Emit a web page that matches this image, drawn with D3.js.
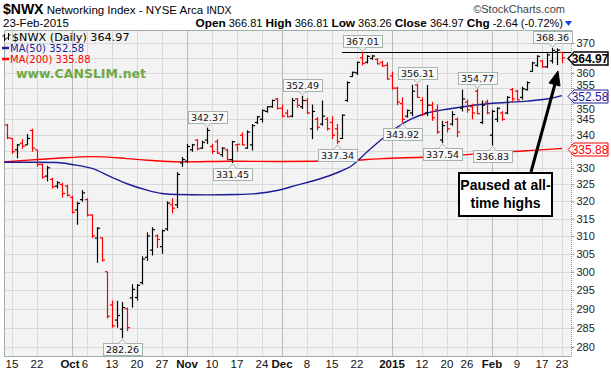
<!DOCTYPE html>
<html>
<head>
<meta charset="utf-8">
<script src="https://cdn.jsdelivr.net/npm/d3@7"></script>
<style>
body { margin: 0; background: #fff; }
svg { display: block; }
</style>
</head>
<body>
<svg width="611" height="375"></svg>
<script>
// daily bars, Sep 12 2014 .. Feb 23 2015 (index 0..111)
const opens  = [343.2,339.0,335.5,337.5,337.0,341.5,335.5,331.0,327.5,326.5,324.5,325.0,324.5,321.2,317.5,320.5,320.5,316.0,309.4,309.5,
                300.0,291.0,287.0,284.6,290.0,292.9,293.0,297.0,304.0,306.0,310.0,307.0,312.0,319.0,319.0,331.5,332.0,335.5,338.5,336.0,
                338.5,336.5,338.0,334.0,335.5,332.5,337.0,340.0,336.0,337.0,344.0,345.0,347.5,349.0,351.5,348.5,347.0,346.0,351.5,349.0,
                351.0,342.0,345.0,343.5,345.0,344.0,342.0,339.0,351.0,358.8,360.0,365.0,363.5,364.8,364.5,363.5,362.5,359.0,355.0,350.0,
                346.0,347.0,356.0,351.0,347.0,349.5,348.0,338.5,344.0,343.5,345.0,348.5,350.5,349.0,354.0,344.0,350.5,340.0,345.0,347.0,
                347.0,354.5,354.0,352.0,354.5,360.5,362.5,364.0,362.0,364.0,367.0,366.81];
const highs  = [343.5,339.0,337.3,338.8,340.4,342.0,335.5,331.3,330.6,327.0,326.0,325.5,324.9,321.7,319.9,323.3,320.9,316.2,312.5,309.6,
                300.0,292.2,292.1,291.8,290.3,296.6,296.6,304.3,311.0,312.5,310.5,311.8,320.0,320.9,328.7,333.3,337.3,337.3,338.8,338.3,
                342.37,337.3,338.8,336.3,335.8,338.3,337.3,340.9,341.5,343.5,346.0,348.1,349.1,351.3,351.8,349.7,348.1,351.8,351.8,352.49,
                351.8,349.7,345.7,351.0,345.7,346.0,343.5,346.6,357.2,360.4,363.7,367.01,365.9,366.0,364.9,364.0,363.5,360.4,355.5,352.0,
                348.1,356.1,356.31,352.0,356.0,350.6,349.7,344.5,344.5,347.6,345.6,354.5,351.3,350.0,354.77,351.0,351.3,348.0,348.8,347.6,
                352.4,355.1,354.5,355.5,357.2,363.7,365.9,364.3,366.5,368.36,368.2,366.81];
const lows   = [338.8,334.2,332.9,335.8,337.0,334.9,330.3,326.7,325.9,323.8,323.8,321.1,321.4,316.5,313.2,319.9,315.6,309.4,302.5,302.8,
                287.4,285.0,285.0,282.26,284.1,290.3,292.2,296.5,303.0,304.5,306.6,305.0,311.5,316.5,318.0,330.3,331.5,334.9,335.3,335.8,
                337.3,334.2,334.2,333.3,332.2,331.45,334.9,336.8,335.8,335.3,343.5,344.0,347.1,348.7,348.1,345.6,345.6,345.6,348.7,348.3,
                346.6,338.8,341.5,343.0,341.5,338.8,337.34,338.8,350.6,358.7,359.3,362.5,363.1,364.3,362.8,362.0,357.7,354.5,349.5,343.92,
                345.5,346.0,351.8,346.0,346.0,344.5,340.4,337.54,340.9,343.0,339.4,347.5,347.1,345.0,346.6,343.5,346.6,336.83,344.1,344.5,
                346.6,350.6,351.0,351.3,354.2,360.4,362.0,361.6,361.6,363.1,362.6,363.26];
const closes = [339.2,334.9,337.0,336.6,339.0,336.0,331.0,327.2,330.0,324.3,325.5,322.3,321.8,316.8,319.4,322.5,316.0,310.0,312.2,303.2,
                288.0,285.5,288.2,290.3,285.0,295.2,296.3,303.5,310.0,311.8,309.0,311.5,319.5,318.0,328.0,332.5,336.5,337.0,335.8,337.8,
                341.5,335.0,334.5,336.0,332.5,338.0,337.2,337.0,341.0,343.0,345.8,347.8,349.0,351.0,348.5,346.0,345.8,351.0,349.5,351.0,
                347.0,347.5,342.5,346.0,342.0,340.0,338.0,346.3,356.8,360.2,363.5,363.1,365.5,365.6,363.0,362.3,358.0,355.0,350.5,345.0,
                347.8,354.0,352.0,346.5,349.5,345.5,341.0,343.0,342.0,346.5,341.0,351.5,348.0,347.0,346.8,349.5,347.0,347.5,348.5,345.0,
                352.0,351.5,351.2,354.8,356.8,363.3,365.5,362.0,366.0,367.5,367.61,364.97];

// moving averages at sample bars
const ma50Idx = [-0.6,5,10,13,17,21,24,28,31,34,40,46,50,54,58,62,66,69,72,75,78,81,84,88,93,98,104,109,111];
const ma50Val = [331.7,331.7,331.6,331.0,329.8,327.1,325.2,323.3,322.3,322.0,321.9,322.0,322.3,323.2,324.8,326.4,328.5,330.7,334.8,338.8,342.5,345.2,347.0,348.2,349.4,350.2,350.8,351.8,352.58];
const ma200Idx = [-0.6,5,10,17,24,28,35,45,55,68,75,84,90,96,103,109,111];
const ma200Val = [331.8,332.4,332.9,333.4,332.8,332.3,331.8,332.0,331.9,332.2,332.8,333.3,333.8,334.5,335.1,335.7,335.88];

// x axis ticks (bar index) and labels
const tickIdx    = [1,6,13,16,21,26,31,36,41,46,51,55,60,65,70,77,83,88,92,97,102,107,111];
const tickLabels = ["15","22","Oct","6","13","20","27","Nov","10","17","24","Dec","8","15","22","2015","12","20","26","Feb","9","17","23"];
const monthTicks = ["Oct","Nov","Dec","2015","Feb"];
const yTicks = d3.range(280, 371, 5);

// high / low callouts
const hiIdx = [40,59,71,82,94,109];
const loIdx = [23,45,66,79,87,97];
const resistanceLevel = 367.01, resistanceFrom = 67;

const svg = d3.select("svg");
const L = 4, R = 571, T = 30, B = 356;
const x = d3.scaleLinear().domain([0, 111]).range([7, 562]);
const y = d3.scaleLog().domain([280, 370]).range([347, 43]);
const red = "#ff0000", blue = "#1c1c96";
const lastClose = closes[closes.length - 1];
const lastMa50 = ma50Val[ma50Val.length - 1];
const lastMa200 = ma200Val[ma200Val.length - 1];

// plot background
svg.append("rect").attr("x", L).attr("y", T).attr("width", R - L).attr("height", B - T)
    .attr("fill", "#f3f3f3");

// grid
svg.append("g").selectAll("line").data(yTicks).enter().append("line")
    .attr("x1", L).attr("x2", R)
    .attr("y1", d => Math.round(y(d)) + 0.5).attr("y2", d => Math.round(y(d)) + 0.5)
    .attr("stroke", "#d9d9d9");
svg.append("g").selectAll("line").data(tickIdx).enter().append("line")
    .attr("x1", d => x(d) + 0.5).attr("x2", d => x(d) + 0.5)
    .attr("y1", T).attr("y2", B)
    .attr("stroke", (d, i) => monthTicks.includes(tickLabels[i]) ? "#b9b9b9" : "#d9d9d9");

// frame
svg.append("path").attr("d", `M${L + 0.5},${B + 0.5}V${T + 0.5}H${R + 0.5}`)
    .attr("fill", "none").attr("stroke", "#9fb0aa");
svg.append("line").attr("x1", L).attr("x2", R + 1).attr("y1", B + 0.5).attr("y2", B + 0.5)
    .attr("stroke", "#9fb0aa");
svg.append("line").attr("x1", R + 0.5).attr("x2", R + 0.5).attr("y1", T).attr("y2", B)
    .attr("stroke", "#7f9990").attr("stroke-dasharray", "1,1");

// right axis; labels hidden under a price tag are dropped, close ones nudged clear
const tagVals = [lastClose, lastMa50, lastMa200];
const yAxis = svg.append("g").attr("transform", `translate(${R + 0.5},0)`)
    .call(d3.axisRight(y).tickValues(yTicks).tickFormat(d3.format("d")).tickSize(3).tickPadding(2));
yAxis.select(".domain").remove();
yAxis.selectAll("line").attr("stroke", "#7f9990");
yAxis.selectAll("text").attr("font-family", "Liberation Sans, Arial, sans-serif")
    .attr("font-size", 11).attr("fill", "#222")
    .each(function(d) {
        const t = d3.select(this);
        tagVals.forEach(v => {
            const dy = y(d) - y(v);
            const push = (dy > 0 ? 13 : 11) - Math.abs(dy);
            if (Math.abs(dy) < 4) t.remove();
            else if (push > 0) t.attr("dy", (0.32 + Math.sign(dy) * push / 11) + "em");
        });
    });

// x labels
svg.append("g").selectAll("text").data(tickIdx).enter().append("text")
    .attr("x", (d, i) => tickLabels[i] === "6" ? x(d) - 2 : tickLabels[i] === "Oct" ? x(d) - 2 : x(d))
    .attr("y", 368)
    .attr("text-anchor", "middle")
    .attr("font-family", "Liberation Sans, Arial, sans-serif")
    .attr("font-size", 11.5)
    .attr("font-weight", (d, i) => monthTicks.includes(tickLabels[i]) ? "bold" : "normal")
    .attr("fill", "#111")
    .text((d, i) => tickLabels[i]);

// moving averages
const line = d3.line().x(d => x(d[0])).y(d => y(d[1])).curve(d3.curveMonotoneX);
svg.append("path").datum(d3.zip(ma200Idx, ma200Val)).attr("d", line)
    .attr("fill", "none").attr("stroke", red).attr("stroke-width", 1.4);
svg.append("path").datum(d3.zip(ma50Idx, ma50Val)).attr("d", line)
    .attr("fill", "none").attr("stroke", blue).attr("stroke-width", 1.4);

// resistance line
svg.append("line").attr("x1", x(resistanceFrom)).attr("x2", R)
    .attr("y1", Math.round(y(resistanceLevel)) + 0.5).attr("y2", Math.round(y(resistanceLevel)) + 0.5)
    .attr("stroke", "#000");

// OHLC bars
const bars = d3.range(closes.length).map(i => ({
    i, o: opens[i], h: highs[i], l: lows[i], c: closes[i],
    col: (i === 0 ? closes[i] < opens[i] : closes[i] < closes[i - 1]) ? red : "#000"
}));
const bg = svg.append("g").attr("stroke-width", 1.2);
bars.forEach(d => {
    const cx = x(d.i) + 0.5;
    bg.append("line").attr("x1", cx).attr("x2", cx).attr("y1", y(d.h)).attr("y2", y(d.l)).attr("stroke", d.col);
    bg.append("line").attr("x1", cx - 2.6).attr("x2", cx).attr("y1", y(d.o)).attr("y2", y(d.o)).attr("stroke", d.col);
    bg.append("line").attr("x1", cx).attr("x2", cx + 2.6).attr("y1", y(d.c)).attr("y2", y(d.c)).attr("stroke", d.col);
});

// callouts
function callout(i, val, above) {
    const cx = x(i) + 0.5;
    const py = y(val);
    const g = svg.append("g");
    const t = g.append("text").attr("x", cx).attr("text-anchor", "middle")
        .attr("font-family", "DejaVu Sans, Verdana, sans-serif").attr("font-size", 9.5)
        .attr("fill", "#111").text(val.toFixed(2));
    const w = t.node().getComputedTextLength() + 6;
    const h = 12;
    const by = above ? py - 5 - h : py + 5;
    const tip = above ? py - 1 : py + 1;
    const edge = above ? by + h : by;
    g.insert("rect", "text").attr("x", Math.round(cx - w / 2) + 0.5).attr("y", Math.round(by) + 0.5)
        .attr("width", Math.round(w)).attr("height", h)
        .attr("fill", "#f8f8f8").attr("stroke", "#a6b4ae");
    g.insert("path", "text")
        .attr("d", `M${cx - 4},${Math.round(edge) + 0.5}L${cx},${tip}L${cx + 4},${Math.round(edge) + 0.5}`)
        .attr("fill", "#f8f8f8").attr("stroke", "#a6b4ae");
    t.attr("y", Math.round(by) + 10);
}
hiIdx.forEach(i => callout(i, highs[i], true));
loIdx.forEach(i => callout(i, lows[i], false));

// price tags on right axis
function tag(val, color, bold) {
    const cy = Math.round(y(val)) + 0.5;
    const x0 = R - 3, x1 = R + 37, hh = 6.5;
    svg.append("path")
        .attr("d", `M${x0},${cy}L${x0 + 6},${cy - hh}H${x1}V${cy + hh}H${x0 + 6}Z`)
        .attr("fill", "#fff").attr("stroke", color).attr("stroke-width", bold ? 1.4 : 1);
    svg.append("text").attr("x", x0 + 22).attr("y", cy + 4.5).attr("text-anchor", "middle")
        .attr("font-family", "Liberation Sans, Arial, sans-serif").attr("font-size", 12)
        .attr("font-weight", bold ? "bold" : "normal").attr("fill", color)
        .text(val.toFixed(2));
}
tag(lastMa200, red, false);
tag(lastMa50, blue, false);
tag(lastClose, "#000", true);

// legend
const lg = svg.append("g").attr("font-family", "DejaVu Sans, Verdana, sans-serif").attr("font-size", 10);
lg.append("path").attr("d", "M4.5,34V41M2.5,36H4.5M4.5,39H6.5M8.5,33V40M6.5,38H8.5M8.5,35H10.5")
    .attr("stroke", "#000").attr("fill", "none");
lg.append("text").attr("x", 12).attr("y", 41).attr("fill", "#000").attr("font-size", 11.2)
    .text("$NWX (Daily) " + lastClose.toFixed(2));
lg.append("line").attr("x1", 2).attr("x2", 9).attr("y1", 48).attr("y2", 48).attr("stroke", blue).attr("stroke-width", 2.5);
lg.append("text").attr("x", 10).attr("y", 52).attr("fill", blue)
    .text("MA(50) " + lastMa50.toFixed(2));
lg.append("line").attr("x1", 2).attr("x2", 9).attr("y1", 59).attr("y2", 59).attr("stroke", red).attr("stroke-width", 2.5);
lg.append("text").attr("x", 10).attr("y", 63).attr("fill", red)
    .text("MA(200) " + lastMa200.toFixed(2));
svg.append("text").attr("x", 16).attr("y", 78)
    .attr("font-family", "DejaVu Sans, Verdana, sans-serif").attr("font-size", 12.5).attr("font-weight", "bold")
    .attr("fill", "#6fa847").text("www.CANSLIM.net");

// annotation
svg.append("line").attr("x1", 531).attr("y1", 172).attr("x2", 555).attr("y2", 84)
    .attr("stroke", "#000").attr("stroke-width", 3);
svg.append("path").attr("d", "M558,71L560,86L549,83Z").attr("fill", "#000").attr("stroke", "#000");
svg.append("rect").attr("x", 459).attr("y", 173).attr("width", 93).attr("height", 43)
    .attr("fill", "#fff").attr("stroke", "#000").attr("stroke-width", 2);
svg.append("text").attr("x", 505.5).attr("y", 190).attr("text-anchor", "middle")
    .attr("font-family", "Liberation Sans, Arial, sans-serif").attr("font-size", 14).attr("font-weight", "bold")
    .text("Paused at all-");
svg.append("text").attr("x", 505.5).attr("y", 208).attr("text-anchor", "middle")
    .attr("font-family", "Liberation Sans, Arial, sans-serif").attr("font-size", 14).attr("font-weight", "bold")
    .text("time highs");

// header
const hf = "Liberation Sans, Arial, sans-serif";
const h1 = svg.append("text").attr("x", 3).attr("y", 14).attr("font-family", hf).attr("fill", "#000");
h1.append("tspan").attr("font-size", 14).attr("font-weight", "bold").text("$NWX");
h1.append("tspan").attr("font-size", 11.5).text(" Networking Index - NYSE Arca ");
h1.append("tspan").attr("font-size", 10.5).text("INDX");
svg.append("text").attr("x", 565).attr("y", 13).attr("text-anchor", "end")
    .attr("font-family", hf).attr("font-size", 11).attr("fill", "#444").text("\u00a9StockCharts.com");
svg.append("text").attr("x", 3).attr("y", 27).attr("font-family", hf).attr("font-size", 11.5)
    .attr("fill", "#000").text("23-Feb-2015");
const q = svg.append("text").attr("x", 563).attr("y", 27).attr("text-anchor", "end")
    .attr("font-family", hf).attr("font-size", 11).attr("fill", "#000");
[["Open", " 366.81 "], ["High", " 366.81 "], ["Low", " 363.26 "], ["Close", " 364.97 "], ["Chg", " -2.64 (-0.72%)"]]
    .forEach(p => {
        q.append("tspan").attr("font-weight", "bold").attr("font-size", 11.8).text(p[0]);
        q.append("tspan").text(p[1]);
    });
svg.append("path").attr("d", "M565,21H572L568.5,26Z").attr("fill", "#1e3cf0");
</script>
</body>
</html>
